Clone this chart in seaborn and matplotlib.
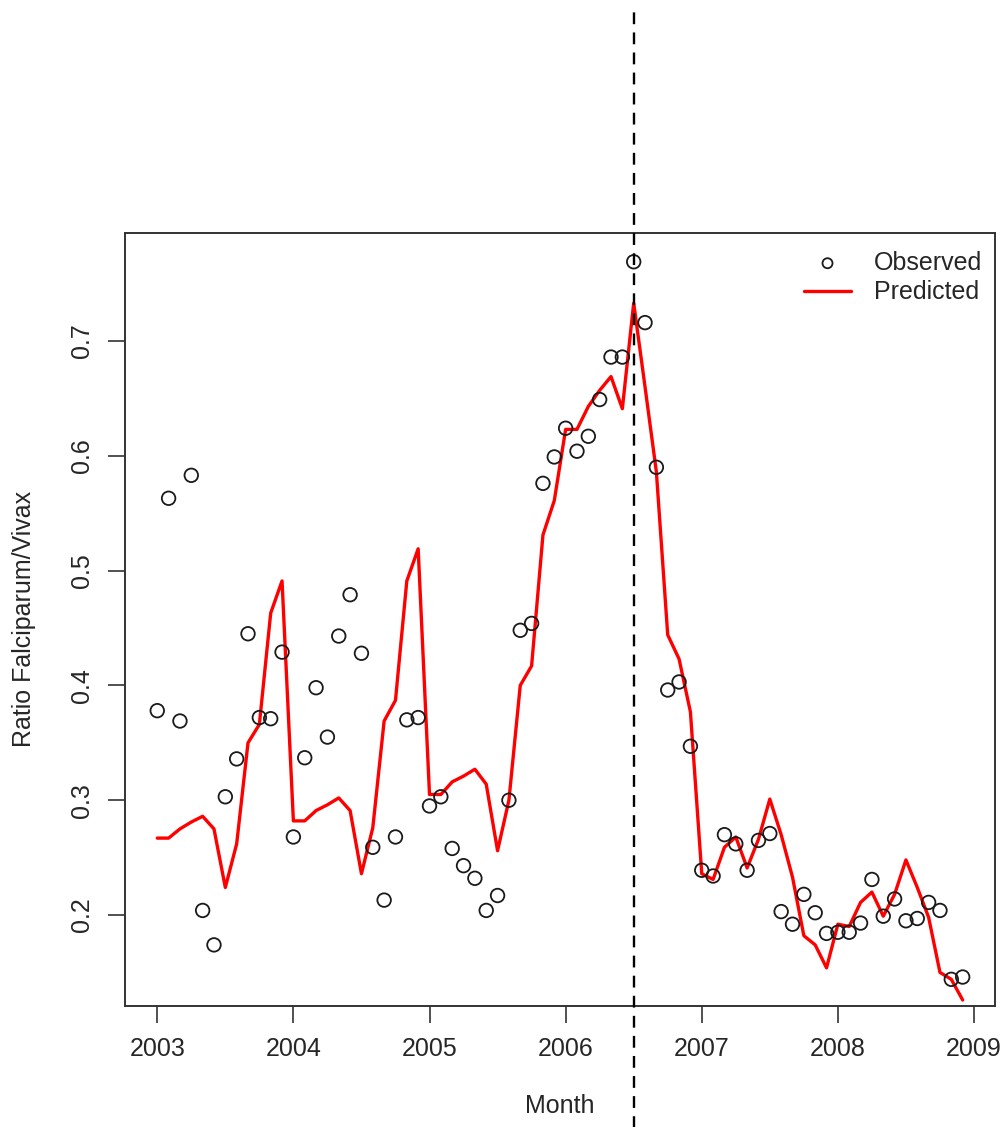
# %% plot.py - observed vs predicted falciparum/vivax ratio, monthly 2003-2008

# %% IMPORTS
import numpy as np
import pandas as pd
import seaborn as sns
from matplotlib import pyplot as plt

# %% DATA
years = [2003, 2004, 2005, 2006, 2007, 2008]
month_names = ['Jan', 'Feb', 'Mar', 'Apr', 'May', 'Jun',
               'Jul', 'Aug', 'Sep', 'Oct', 'Nov', 'Dec']

observed = [
    0.378, 0.563, 0.369, 0.583, 0.204, 0.174, 0.303, 0.336, 0.445, 0.372, 0.371, 0.429,   # 2003
    0.268, 0.337, 0.398, 0.355, 0.443, 0.479, 0.428, 0.259, 0.213, 0.268, 0.370, 0.372,   # 2004
    0.295, 0.303, 0.258, 0.243, 0.232, 0.204, 0.217, 0.300, 0.448, 0.454, 0.576, 0.599,   # 2005
    0.624, 0.604, 0.617, 0.649, 0.686, 0.686, 0.769, 0.716, 0.590, 0.396, 0.403, 0.347,   # 2006
    0.239, 0.234, 0.270, 0.262, 0.239, 0.265, 0.271, 0.203, 0.192, 0.218, 0.202, 0.184,   # 2007
    0.185, 0.185, 0.193, 0.231, 0.199, 0.214, 0.195, 0.197, 0.211, 0.204, 0.144, 0.146,   # 2008
]

predicted = [
    0.267, 0.267, 0.275, 0.281, 0.286, 0.275, 0.224, 0.262, 0.350, 0.366, 0.463, 0.491,   # 2003
    0.282, 0.282, 0.291, 0.296, 0.302, 0.291, 0.236, 0.276, 0.369, 0.387, 0.491, 0.519,   # 2004
    0.305, 0.305, 0.316, 0.321, 0.327, 0.314, 0.256, 0.300, 0.400, 0.417, 0.531, 0.561,   # 2005
    0.623, 0.623, 0.643, 0.657, 0.669, 0.641, 0.733, 0.660, 0.586, 0.444, 0.423, 0.377,   # 2006
    0.236, 0.231, 0.259, 0.268, 0.241, 0.266, 0.301, 0.270, 0.233, 0.182, 0.174, 0.154,   # 2007
    0.192, 0.190, 0.211, 0.220, 0.199, 0.218, 0.248, 0.224, 0.198, 0.150, 0.144, 0.126,   # 2008
]

cutoff = 2006.5   # dashed line: start of the prediction period
x_ticks = [2003, 2004, 2005, 2006, 2007, 2008, 2009]
y_ticks = [0.2, 0.3, 0.4, 0.5, 0.6, 0.7]

# %% BUILD TABLE
df = pd.DataFrame({
    'year': np.repeat(years, 12),
    'month': month_names * len(years),
    'observed': observed,
    'predicted': predicted,
})
df['time'] = df['year'] + df['month'].map({m: i for i, m in enumerate(month_names)}) / 12

# %% PLOT
sns.set_style('white')
plt.rcParams['font.family'] = ['Liberation Sans', 'DejaVu Sans']
FS = 18

fig = plt.figure(figsize=(10.04, 11.27), dpi=100)
ax = fig.add_axes([0.1245, 0.1076, 0.8665, 0.6856])

sns.scatterplot(data=df, x='time', y='observed', ax=ax, label='Observed',
                marker='o', s=95, facecolor='none', edgecolor='#1a1a1a',
                linewidth=1.3, zorder=3)
sns.lineplot(data=df, x='time', y='predicted', ax=ax, label='Predicted',
             color='#ff0000', linewidth=2.4, zorder=2)

# dashed cutoff line runs past the axes, over the whole figure height
ax.axvline(cutoff, ymin=-0.16, ymax=1.29, color='black', linewidth=1.7,
           linestyle=(0, (5, 3.5)), clip_on=False, zorder=4)

ax.set_xlim(2002.763, 2009.154)
ax.set_ylim(0.121, 0.794)
ax.set_xticks(x_ticks)
ax.set_yticks(y_ticks)
ax.set_xticklabels([str(t) for t in x_ticks], fontsize=FS)
ax.set_yticklabels([f'{t:.1f}' for t in y_ticks], fontsize=FS,
                   rotation=90, va='center')
ax.tick_params(axis='both', direction='out', length=12, width=1.2,
               color='#333333', pad=10.5, bottom=True, left=True)

for sp in ax.spines.values():
    sp.set_visible(True)
    sp.set_color('#333333')
    sp.set_linewidth(1.4)

ax.set_xlabel('Month', fontsize=FS, labelpad=24)
ax.set_ylabel('Ratio Falciparum/Vivax', fontsize=FS, labelpad=24)

leg = ax.legend(loc='upper right', bbox_to_anchor=(0.9966, 0.99),
                frameon=False, fontsize=FS, handlelength=1.9,
                handletextpad=0.9, borderaxespad=0, borderpad=0.4,
                labelspacing=0.22)
for h in leg.legend_handles:
    if hasattr(h, 'set_sizes'):
        h.set_sizes([52])

fig.savefig('out.png', dpi=100, facecolor='white')
